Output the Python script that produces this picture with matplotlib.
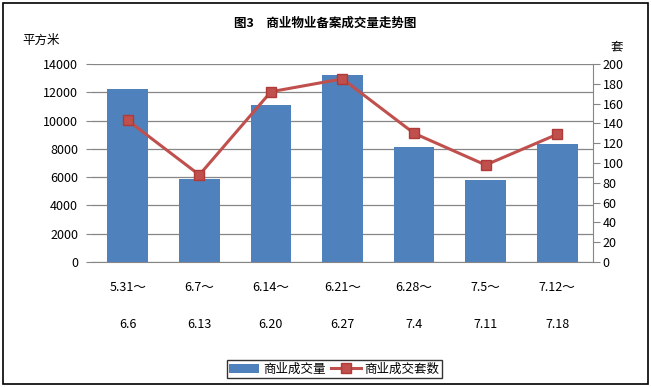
import numpy as np
import matplotlib
matplotlib.use("Agg")
import matplotlib.pyplot as plt
from matplotlib.patches import Rectangle

plt.rcParams['font.family'] = ['Noto Sans CJK SC', 'DejaVu Sans']

weeks_top = ['5.31～', '6.7～', '6.14～', '6.21～', '6.28～', '7.5～', '7.12～']
weeks_bot = ['6.6', '6.13', '6.20', '6.27', '7.4', '7.11', '7.18']
area = [12200, 5900, 11100, 13200, 8150, 5800, 8350]   # 商业成交量 (平方米)
units = [143, 88, 172, 185, 130, 98, 129]              # 商业成交套数 (套)

bar_col = '#4F81BD'
line_col = '#C0504D'
grid_col = '#868686'

fig = plt.figure(figsize=(6.51, 3.87), dpi=100)
ax = fig.add_axes([0.1413, 0.323, 0.7696, 0.5116])
ax2 = ax.twinx()

x = np.arange(len(area))
bars = ax.bar(x, area, width=0.57, color=bar_col, zorder=2, label='商业成交量')
ln, = ax2.plot(x, units, color=line_col, lw=2.2, marker='s', ms=6.5,
               mfc=line_col, mec='#B03A37', label='商业成交套数', zorder=3)

ax.set_xlim(-0.5, len(area) - 0.5)
ax.set_ylim(0, 14000)
ax.set_yticks(np.arange(0, 14001, 2000))
ax2.set_ylim(0, 200)
ax2.set_yticks(np.arange(0, 201, 20))

ax.grid(axis='y', color=grid_col, lw=0.9, zorder=0)
ax.set_axisbelow(True)
for s in ['top', 'left']:
    ax.spines[s].set_visible(False)
    ax2.spines[s].set_visible(False)
ax.spines['right'].set_visible(False)
ax.spines['bottom'].set_color(grid_col)
ax2.spines['bottom'].set_visible(False)
ax2.spines['right'].set_color(grid_col)

ax.tick_params(axis='y', length=4, color=grid_col, labelsize=9, pad=6)
ax2.tick_params(axis='y', length=5, color=grid_col, labelsize=9, pad=2)
ax.tick_params(axis='x', length=0, labelsize=9, pad=14)
ax.set_xticks(x)
ax.set_xticklabels([t + '\n\n' + b for t, b in zip(weeks_top, weeks_bot)],
                   linespacing=1.55)

fig.text(0.5, 0.94, '图3　商业物业备案成交量走势图', ha='center', va='center',
         fontsize=9, fontweight='bold')
fig.text(0.035, 0.895, '平方米', ha='left', va='center', fontsize=9)
fig.text(0.938, 0.878, '套', ha='left', va='center', fontsize=9)

leg = fig.legend(handles=[bars, ln], loc='center', bbox_to_anchor=(0.5135, 0.0465),
                 ncol=2, fontsize=9, frameon=True, fancybox=False, borderpad=0.2,
                 handlelength=2.4, handletextpad=0.3, columnspacing=0.4,
                 borderaxespad=0)
leg.get_frame().set_edgecolor('black')
leg.get_frame().set_linewidth(1.0)

fig.patches.append(Rectangle((0.005, 0.008), 0.99, 0.984, transform=fig.transFigure,
                             fill=False, edgecolor='black', lw=1.2))

fig.savefig('out.png', dpi=100)
